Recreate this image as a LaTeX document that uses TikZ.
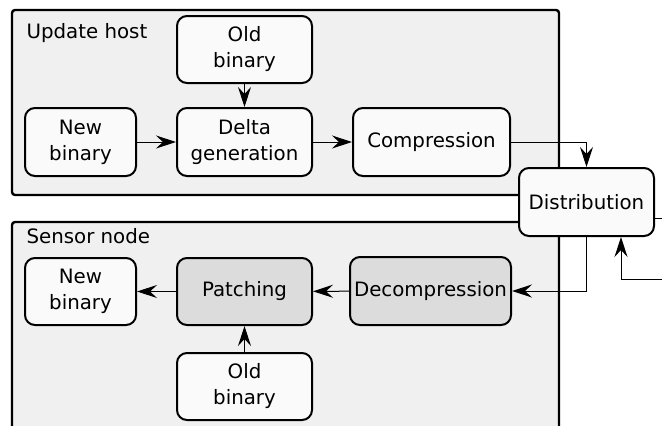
\documentclass[tikz,border=0pt]{standalone}
\usepackage{fontspec}
\setmainfont{DejaVu Sans}
\usetikzlibrary{arrows.meta}
\definecolor{contfill}{HTML}{F0F0F0}
\definecolor{boxfill}{HTML}{FAFAFA}
\definecolor{grayfill}{HTML}{DCDCDC}
\begin{document}
\begin{tikzpicture}[x=1pt,y=-1pt,
  every node/.style={font=\fontsize{19.8}{26}\selectfont},
  container/.style={draw=black, line width=2.4pt, fill=contfill, rounded corners=3pt},
  stepbox/.style={draw=black, line width=2pt, fill=boxfill, rounded corners=10pt, align=center, inner sep=0pt},
  graybox/.style={stepbox, fill=grayfill},
  conn/.style={line width=1pt, -{Stealth[length=20pt, width=13pt, inset=7pt]}},
  plain/.style={line width=1pt}]
\useasboundingbox (0,0) rectangle (662,426);
\clip (0,0) rectangle (662,426);
% containers
\draw[container] (12,10) rectangle (559,195);
\draw[container] (12,222) rectangle (559,460);
\node[anchor=west] (uhlabel) at (23,33) {Update host};
\node[anchor=west] (snlabel) at (23,236) {Sensor node};
% update host nodes
\node[stepbox, minimum width=135pt, minimum height=67pt] (oldU) at (244.5,49.5) {Old\\binary};
\node[stepbox, minimum width=111pt, minimum height=68pt] (newU) at (80.5,142) {New\\binary};
\node[stepbox, minimum width=135pt, minimum height=68pt] (delta) at (244.5,142) {Delta\\generation};
\node[stepbox, minimum width=157pt, minimum height=68pt] (comp) at (431.5,142) {Compression};
% distribution
\node[stepbox, minimum width=135pt, minimum height=68pt] (dist) at (586.5,202) {Distribution};
% sensor node nodes
\node[stepbox, minimum width=111pt, minimum height=67pt] (newS) at (80.5,291.5) {New\\binary};
\node[graybox, minimum width=135pt, minimum height=67pt] (patch) at (244.5,291.5) {Patching};
\node[graybox, minimum width=161pt, minimum height=68pt] (decomp) at (430.5,291) {Decompression};
\node[stepbox, minimum width=135pt, minimum height=67pt] (oldS) at (244.5,386.5) {Old\\binary};
% free ends at the right edge
\coordinate (outR) at (662,218);
\coordinate (inR) at (662,279);
% connectors
\draw[conn] (oldU) -- (delta);
\draw[conn] (newU) -- (delta);
\draw[conn] (delta) -- (comp);
\draw[conn] (comp.east) -| (dist.north);
\draw[conn] (dist.south) |- (decomp.east);
\draw[conn] (decomp) -- (patch);
\draw[conn] (patch) -- (newS);
\draw[conn] (oldS) -- (patch);
\draw[plain] (dist.east |- outR) -- (outR);
\draw[conn] (inR) -| ([xshift=34.5pt]dist.south);
\end{tikzpicture}
\end{document}
